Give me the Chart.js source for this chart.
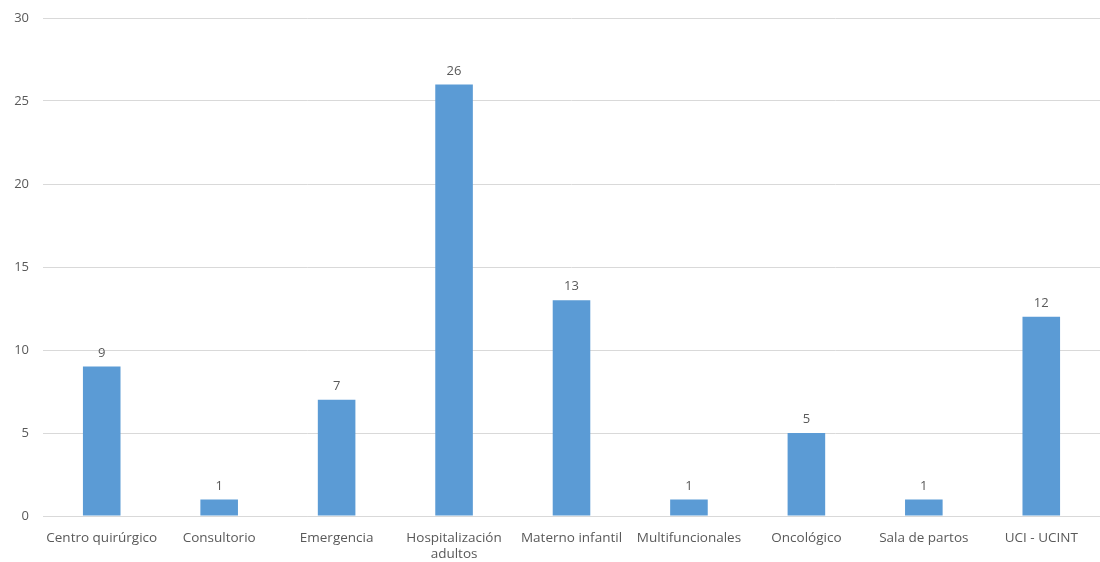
<!DOCTYPE html>
<html>
<head>
<meta charset="utf-8">
<script src="https://cdn.jsdelivr.net/npm/chart.js@4"></script>
<style>
  html, body { margin: 0; padding: 0; background: #ffffff; }
  #wrap { width: 1100px; height: 562px; }
</style>
</head>
<body>
<div id="wrap"><canvas id="chart" width="1100" height="562"></canvas></div>
<script>
// Chart data
const categories = [
    'Centro quirúrgico',
    'Consultorio',
    'Emergencia',
    ['Hospitalización', 'adultos'],
    'Materno infantil',
    'Multifuncionales',
    'Oncológico',
    'Sala de partos',
    'UCI - UCINT'
];
const values = [9, 1, 7, 26, 13, 1, 5, 1, 12];
const yTicks = [0, 5, 10, 15, 20, 25, 30];

const textColor = '#595959';
const fontFamily = '"Open Sans", "Liberation Sans", sans-serif';

// Draw value labels above each bar
const valueLabels = {
    id: 'valueLabels',
    afterDatasetsDraw(chart) {
        const ctx = chart.ctx;
        const meta = chart.getDatasetMeta(0);
        ctx.save();
        ctx.fillStyle = textColor;
        ctx.font = '13px ' + fontFamily;
        ctx.textAlign = 'center';
        ctx.textBaseline = 'bottom';
        meta.data.forEach((bar, i) => {
            ctx.fillText(String(values[i]), bar.x, bar.y - 7);
        });
        ctx.restore();
    }
};

new Chart(document.getElementById('chart').getContext('2d'), {
    type: 'bar',
    data: {
        labels: categories,
        datasets: [{
            data: values,
            backgroundColor: '#5b9bd5',
            borderWidth: 0,
            categoryPercentage: 1,
            barPercentage: 0.32
        }]
    },
    options: {
        responsive: false,
        animation: false,
        layout: { padding: { top: 18, right: 0, left: 0, bottom: 0 } },
        plugins: {
            legend: { display: false },
            tooltip: { enabled: false }
        },
        scales: {
            x: {
                grid: { display: false },
                border: { color: '#d9d9d9', width: 1 },
                ticks: {
                    color: textColor,
                    font: { family: fontFamily, size: 13.5 },
                    maxRotation: 0,
                    autoSkip: false,
                    padding: 6
                },
                afterFit(scale) { scale.height = 46; }
            },
            y: {
                min: 0,
                max: 30,
                afterBuildTicks(scale) {
                    scale.ticks = yTicks.map(v => ({ value: v }));
                },
                grid: { color: '#d9d9d9', drawTicks: false },
                border: { display: false },
                ticks: {
                    color: textColor,
                    font: { family: fontFamily, size: 13 },
                    padding: 14
                },
                afterFit(scale) {
                    scale.width = 43;
                    scale.paddingTop = 0;
                    scale.paddingBottom = 0;
                }
            }
        }
    },
    plugins: [valueLabels]
});
</script>
</body>
</html>
